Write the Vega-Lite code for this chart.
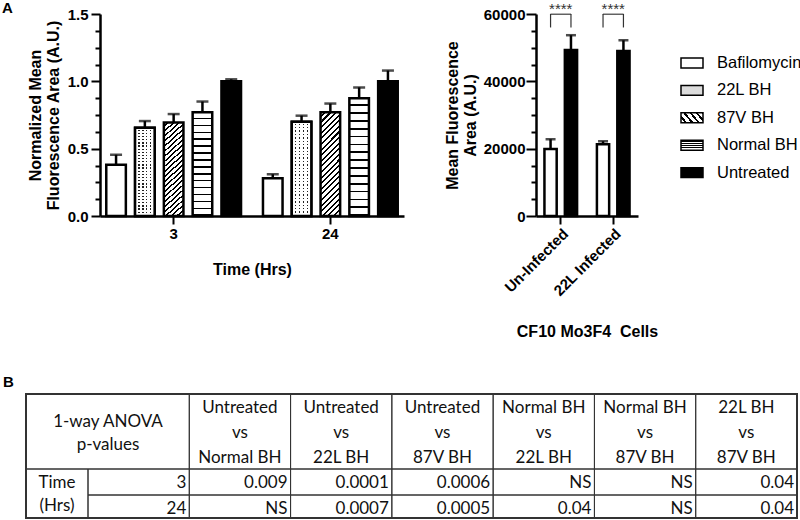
{
  "$schema": "https://vega.github.io/schema/vega-lite/v6.json",
  "padding": {"left": 2, "top": 1, "right": 0, "bottom": 0},
  "background": "white",
  "datasets": {
    "norm": [
      {"Time": "3", "Treatment": "Bafilomycin", "value": 0.38, "upper": 0.455},
      {"Time": "3", "Treatment": "22L BH", "value": 0.655, "upper": 0.705},
      {"Time": "3", "Treatment": "87V BH", "value": 0.695, "upper": 0.757},
      {"Time": "3", "Treatment": "Normal BH", "value": 0.77, "upper": 0.85},
      {"Time": "3", "Treatment": "Untreated", "value": 1.0, "upper": 1.015},
      {"Time": "24", "Treatment": "Bafilomycin", "value": 0.28, "upper": 0.31},
      {"Time": "24", "Treatment": "22L BH", "value": 0.7, "upper": 0.745},
      {"Time": "24", "Treatment": "87V BH", "value": 0.77, "upper": 0.835},
      {"Time": "24", "Treatment": "Normal BH", "value": 0.875, "upper": 0.955},
      {"Time": "24", "Treatment": "Untreated", "value": 1.0, "upper": 1.08}
    ],
    "cf10": [
      {"Infection": "Un-Infected", "Treatment": "Bafilomycin", "value": 19900, "upper": 22800, "sig": "****"},
      {"Infection": "Un-Infected", "Treatment": "Untreated", "value": 49300, "upper": 53700, "sig": "****"},
      {"Infection": "22L Infected", "Treatment": "Bafilomycin", "value": 21300, "upper": 22200, "sig": "****"},
      {"Infection": "22L Infected", "Treatment": "Untreated", "value": 49000, "upper": 52200, "sig": "****"}
    ],
    "cells": [
      {"kind": "title", "r0": 0, "r1": 1, "c0": 0, "c1": 2, "text": "1-way ANOVA\np-values"},
      {"kind": "head", "r0": 0, "r1": 1, "c0": 2, "c1": 3, "text": "Untreated\nvs\nNormal BH"},
      {"kind": "head", "r0": 0, "r1": 1, "c0": 3, "c1": 4, "text": "Untreated\nvs\n22L BH"},
      {"kind": "head", "r0": 0, "r1": 1, "c0": 4, "c1": 5, "text": "Untreated\nvs\n87V BH"},
      {"kind": "head", "r0": 0, "r1": 1, "c0": 5, "c1": 6, "text": "Normal BH\nvs\n22L BH"},
      {"kind": "head", "r0": 0, "r1": 1, "c0": 6, "c1": 7, "text": "Normal BH\nvs\n87V BH"},
      {"kind": "head", "r0": 0, "r1": 1, "c0": 7, "c1": 8, "text": "22L BH\nvs\n87V BH"},
      {"kind": "side", "r0": 1, "r1": 3, "c0": 0, "c1": 1, "text": "Time\n(Hrs)"},
      {"kind": "val", "r0": 1, "r1": 2, "c0": 1, "c1": 2, "text": "3"},
      {"kind": "val", "r0": 1, "r1": 2, "c0": 2, "c1": 3, "text": "0.009"},
      {"kind": "val", "r0": 1, "r1": 2, "c0": 3, "c1": 4, "text": "0.0001"},
      {"kind": "val", "r0": 1, "r1": 2, "c0": 4, "c1": 5, "text": "0.0006"},
      {"kind": "val", "r0": 1, "r1": 2, "c0": 5, "c1": 6, "text": "NS"},
      {"kind": "val", "r0": 1, "r1": 2, "c0": 6, "c1": 7, "text": "NS"},
      {"kind": "val", "r0": 1, "r1": 2, "c0": 7, "c1": 8, "text": "0.04"},
      {"kind": "val", "r0": 2, "r1": 3, "c0": 1, "c1": 2, "text": "24"},
      {"kind": "val", "r0": 2, "r1": 3, "c0": 2, "c1": 3, "text": "NS"},
      {"kind": "val", "r0": 2, "r1": 3, "c0": 3, "c1": 4, "text": "0.0007"},
      {"kind": "val", "r0": 2, "r1": 3, "c0": 4, "c1": 5, "text": "0.0005"},
      {"kind": "val", "r0": 2, "r1": 3, "c0": 5, "c1": 6, "text": "0.04"},
      {"kind": "val", "r0": 2, "r1": 3, "c0": 6, "c1": 7, "text": "NS"},
      {"kind": "val", "r0": 2, "r1": 3, "c0": 7, "c1": 8, "text": "0.04"}
    ]
  },
  "params": [
    {"name": "hstripe", "expr": "{gradient:'linear',x1:0,y1:0,x2:0,y2:1,stops:[{offset:0,color:'#fff'},{offset:0.052,color:'#fff'},{offset:0.052,color:'#000'},{offset:0.0667,color:'#000'},{offset:0.0667,color:'#fff'},{offset:0.1187,color:'#fff'},{offset:0.1187,color:'#000'},{offset:0.1333,color:'#000'},{offset:0.1333,color:'#fff'},{offset:0.1853,color:'#fff'},{offset:0.1853,color:'#000'},{offset:0.2,color:'#000'},{offset:0.2,color:'#fff'},{offset:0.252,color:'#fff'},{offset:0.252,color:'#000'},{offset:0.2667,color:'#000'},{offset:0.2667,color:'#fff'},{offset:0.3187,color:'#fff'},{offset:0.3187,color:'#000'},{offset:0.3333,color:'#000'},{offset:0.3333,color:'#fff'},{offset:0.3853,color:'#fff'},{offset:0.3853,color:'#000'},{offset:0.4,color:'#000'},{offset:0.4,color:'#fff'},{offset:0.452,color:'#fff'},{offset:0.452,color:'#000'},{offset:0.4667,color:'#000'},{offset:0.4667,color:'#fff'},{offset:0.5187,color:'#fff'},{offset:0.5187,color:'#000'},{offset:0.5333,color:'#000'},{offset:0.5333,color:'#fff'},{offset:0.5853,color:'#fff'},{offset:0.5853,color:'#000'},{offset:0.6,color:'#000'},{offset:0.6,color:'#fff'},{offset:0.652,color:'#fff'},{offset:0.652,color:'#000'},{offset:0.6667,color:'#000'},{offset:0.6667,color:'#fff'},{offset:0.7187,color:'#fff'},{offset:0.7187,color:'#000'},{offset:0.7333,color:'#000'},{offset:0.7333,color:'#fff'},{offset:0.7853,color:'#fff'},{offset:0.7853,color:'#000'},{offset:0.8,color:'#000'},{offset:0.8,color:'#fff'},{offset:0.852,color:'#fff'},{offset:0.852,color:'#000'},{offset:0.8667,color:'#000'},{offset:0.8667,color:'#fff'},{offset:0.9187,color:'#fff'},{offset:0.9187,color:'#000'},{offset:0.9333,color:'#000'},{offset:0.9333,color:'#fff'},{offset:0.9853,color:'#fff'},{offset:0.9853,color:'#000'},{offset:1,color:'#000'}]}"},
    {"name": "dstripe", "expr": "{gradient:'linear',x1:0,y1:0,x2:0.218,y2:1.1485,stops:[{offset:0,color:'#fff'},{offset:0.0286,color:'#fff'},{offset:0.0286,color:'#000'},{offset:0.0455,color:'#000'},{offset:0.0455,color:'#fff'},{offset:0.0741,color:'#fff'},{offset:0.0741,color:'#000'},{offset:0.0909,color:'#000'},{offset:0.0909,color:'#fff'},{offset:0.1196,color:'#fff'},{offset:0.1196,color:'#000'},{offset:0.1364,color:'#000'},{offset:0.1364,color:'#fff'},{offset:0.165,color:'#fff'},{offset:0.165,color:'#000'},{offset:0.1818,color:'#000'},{offset:0.1818,color:'#fff'},{offset:0.2105,color:'#fff'},{offset:0.2105,color:'#000'},{offset:0.2273,color:'#000'},{offset:0.2273,color:'#fff'},{offset:0.2559,color:'#fff'},{offset:0.2559,color:'#000'},{offset:0.2727,color:'#000'},{offset:0.2727,color:'#fff'},{offset:0.3014,color:'#fff'},{offset:0.3014,color:'#000'},{offset:0.3182,color:'#000'},{offset:0.3182,color:'#fff'},{offset:0.3468,color:'#fff'},{offset:0.3468,color:'#000'},{offset:0.3636,color:'#000'},{offset:0.3636,color:'#fff'},{offset:0.3923,color:'#fff'},{offset:0.3923,color:'#000'},{offset:0.4091,color:'#000'},{offset:0.4091,color:'#fff'},{offset:0.4377,color:'#fff'},{offset:0.4377,color:'#000'},{offset:0.4545,color:'#000'},{offset:0.4545,color:'#fff'},{offset:0.4832,color:'#fff'},{offset:0.4832,color:'#000'},{offset:0.5,color:'#000'},{offset:0.5,color:'#fff'},{offset:0.5286,color:'#fff'},{offset:0.5286,color:'#000'},{offset:0.5455,color:'#000'},{offset:0.5455,color:'#fff'},{offset:0.5741,color:'#fff'},{offset:0.5741,color:'#000'},{offset:0.5909,color:'#000'},{offset:0.5909,color:'#fff'},{offset:0.6196,color:'#fff'},{offset:0.6196,color:'#000'},{offset:0.6364,color:'#000'},{offset:0.6364,color:'#fff'},{offset:0.665,color:'#fff'},{offset:0.665,color:'#000'},{offset:0.6818,color:'#000'},{offset:0.6818,color:'#fff'},{offset:0.7105,color:'#fff'},{offset:0.7105,color:'#000'},{offset:0.7273,color:'#000'},{offset:0.7273,color:'#fff'},{offset:0.7559,color:'#fff'},{offset:0.7559,color:'#000'},{offset:0.7727,color:'#000'},{offset:0.7727,color:'#fff'},{offset:0.8014,color:'#fff'},{offset:0.8014,color:'#000'},{offset:0.8182,color:'#000'},{offset:0.8182,color:'#fff'},{offset:0.8468,color:'#fff'},{offset:0.8468,color:'#000'},{offset:0.8636,color:'#000'},{offset:0.8636,color:'#fff'},{offset:0.8923,color:'#fff'},{offset:0.8923,color:'#000'},{offset:0.9091,color:'#000'},{offset:0.9091,color:'#fff'},{offset:0.9377,color:'#fff'},{offset:0.9377,color:'#000'},{offset:0.9545,color:'#000'},{offset:0.9545,color:'#fff'},{offset:0.9832,color:'#fff'},{offset:0.9832,color:'#000'},{offset:1,color:'#000'}]}"},
    {"name": "dotrows", "expr": "{gradient:'linear',x1:0,y1:0,x2:0,y2:1,stops:[{offset:0,color:'#fff'},{offset:0.0214,color:'#fff'},{offset:0.0214,color:'transparent'},{offset:0.0357,color:'transparent'},{offset:0.0357,color:'#fff'},{offset:0.0571,color:'#fff'},{offset:0.0571,color:'transparent'},{offset:0.0714,color:'transparent'},{offset:0.0714,color:'#fff'},{offset:0.0929,color:'#fff'},{offset:0.0929,color:'transparent'},{offset:0.1071,color:'transparent'},{offset:0.1071,color:'#fff'},{offset:0.1286,color:'#fff'},{offset:0.1286,color:'transparent'},{offset:0.1429,color:'transparent'},{offset:0.1429,color:'#fff'},{offset:0.1643,color:'#fff'},{offset:0.1643,color:'transparent'},{offset:0.1786,color:'transparent'},{offset:0.1786,color:'#fff'},{offset:0.2,color:'#fff'},{offset:0.2,color:'transparent'},{offset:0.2143,color:'transparent'},{offset:0.2143,color:'#fff'},{offset:0.2357,color:'#fff'},{offset:0.2357,color:'transparent'},{offset:0.25,color:'transparent'},{offset:0.25,color:'#fff'},{offset:0.2714,color:'#fff'},{offset:0.2714,color:'transparent'},{offset:0.2857,color:'transparent'},{offset:0.2857,color:'#fff'},{offset:0.3071,color:'#fff'},{offset:0.3071,color:'transparent'},{offset:0.3214,color:'transparent'},{offset:0.3214,color:'#fff'},{offset:0.3429,color:'#fff'},{offset:0.3429,color:'transparent'},{offset:0.3571,color:'transparent'},{offset:0.3571,color:'#fff'},{offset:0.3786,color:'#fff'},{offset:0.3786,color:'transparent'},{offset:0.3929,color:'transparent'},{offset:0.3929,color:'#fff'},{offset:0.4143,color:'#fff'},{offset:0.4143,color:'transparent'},{offset:0.4286,color:'transparent'},{offset:0.4286,color:'#fff'},{offset:0.45,color:'#fff'},{offset:0.45,color:'transparent'},{offset:0.4643,color:'transparent'},{offset:0.4643,color:'#fff'},{offset:0.4857,color:'#fff'},{offset:0.4857,color:'transparent'},{offset:0.5,color:'transparent'},{offset:0.5,color:'#fff'},{offset:0.5214,color:'#fff'},{offset:0.5214,color:'transparent'},{offset:0.5357,color:'transparent'},{offset:0.5357,color:'#fff'},{offset:0.5571,color:'#fff'},{offset:0.5571,color:'transparent'},{offset:0.5714,color:'transparent'},{offset:0.5714,color:'#fff'},{offset:0.5929,color:'#fff'},{offset:0.5929,color:'transparent'},{offset:0.6071,color:'transparent'},{offset:0.6071,color:'#fff'},{offset:0.6286,color:'#fff'},{offset:0.6286,color:'transparent'},{offset:0.6429,color:'transparent'},{offset:0.6429,color:'#fff'},{offset:0.6643,color:'#fff'},{offset:0.6643,color:'transparent'},{offset:0.6786,color:'transparent'},{offset:0.6786,color:'#fff'},{offset:0.7,color:'#fff'},{offset:0.7,color:'transparent'},{offset:0.7143,color:'transparent'},{offset:0.7143,color:'#fff'},{offset:0.7357,color:'#fff'},{offset:0.7357,color:'transparent'},{offset:0.75,color:'transparent'},{offset:0.75,color:'#fff'},{offset:0.7714,color:'#fff'},{offset:0.7714,color:'transparent'},{offset:0.7857,color:'transparent'},{offset:0.7857,color:'#fff'},{offset:0.8071,color:'#fff'},{offset:0.8071,color:'transparent'},{offset:0.8214,color:'transparent'},{offset:0.8214,color:'#fff'},{offset:0.8429,color:'#fff'},{offset:0.8429,color:'transparent'},{offset:0.8571,color:'transparent'},{offset:0.8571,color:'#fff'},{offset:0.8786,color:'#fff'},{offset:0.8786,color:'transparent'},{offset:0.8929,color:'transparent'},{offset:0.8929,color:'#fff'},{offset:0.9143,color:'#fff'},{offset:0.9143,color:'transparent'},{offset:0.9286,color:'transparent'},{offset:0.9286,color:'#fff'},{offset:0.95,color:'#fff'},{offset:0.95,color:'transparent'},{offset:0.9643,color:'transparent'},{offset:0.9643,color:'#fff'},{offset:1,color:'#fff'}]}"},
    {"name": "dotcols", "expr": "{gradient:'linear',x1:0,y1:0,x2:1,y2:0,stops:[{offset:0,color:'#fff'},{offset:0.165,color:'#fff'},{offset:0.165,color:'transparent'},{offset:0.235,color:'transparent'},{offset:0.235,color:'#fff'},{offset:0.365,color:'#fff'},{offset:0.365,color:'transparent'},{offset:0.435,color:'transparent'},{offset:0.435,color:'#fff'},{offset:0.565,color:'#fff'},{offset:0.565,color:'transparent'},{offset:0.635,color:'transparent'},{offset:0.635,color:'#fff'},{offset:0.765,color:'#fff'},{offset:0.765,color:'transparent'},{offset:0.835,color:'transparent'},{offset:0.835,color:'#fff'},{offset:1,color:'#fff'}]}"}
  ],
  "concat": [
    {
      "hconcat": [
        {
          "width": 304,
          "height": 202,
          "title": {"text": "A", "anchor": "start", "frame": "group", "dx": -98, "offset": -9},
          "data": {"name": "norm"},
          "encoding": {
            "x": {"field": "Time", "type": "nominal", "sort": ["3", "24"],
                  "scale": {"paddingInner": 0.14, "paddingOuter": 0.04},
                  "axis": {"title": "Time (Hrs)", "labelAngle": 0, "tickSize": 8, "labelPadding": 2, "titlePadding": 20}},
            "xOffset": {"field": "Treatment", "type": "nominal",
                        "scale": {"domain": ["Bafilomycin", "22L BH", "87V BH", "Normal BH", "Untreated"], "paddingInner": 0.32, "paddingOuter": 0}},
            "y": {"field": "value", "type": "quantitative",
                  "scale": {"domain": [0, 1.5], "nice": false},
                  "axis": {"title": ["Normalized Mean", "Fluorescence Area (A.U.)"], "titleLineHeight": 18,
                           "values": [0, 0.125, 0.25, 0.375, 0.5, 0.625, 0.75, 0.875, 1, 1.125, 1.25, 1.375, 1.5],
                           "labelExpr": "datum.value % 0.5 === 0 ? format(datum.value, '.1f') : ''",
                           "labelOverlap": false,
                           "tickSize": {"condition": {"test": "datum.value % 0.5 !== 0", "value": 5}, "value": 9},
                           "labelPadding": 3, "titlePadding": 6}}
          },
          "layer": [
            {"mark": {"type": "rule", "strokeWidth": 2.5, "color": "black"},
             "encoding": {"y2": {"field": "upper"}}},
            {"mark": {"type": "bar", "stroke": "black", "strokeWidth": 2.5},
             "encoding": {"fill": {"field": "Treatment", "type": "nominal",
                "scale": {"domain": ["Bafilomycin", "22L BH", "87V BH", "Normal BH", "Untreated"],
                          "range": ["#ffffff", "#dcdcdc", {"expr": "dstripe"}, {"expr": "hstripe"}, "#000000"]},
                "legend": {"title": null, "orient": "none", "legendX": 580, "legendY": 37,
                           "symbolType": "M-1,-0.45H1V0.45H-1Z", "symbolSize": 484,
                           "labelFontSize": 16.5, "labelFont": "Liberation Sans", "labelColor": "black",
                           "labelOffset": 13, "rowPadding": 6.4, "padding": 0,
                           "encode": {"symbols": {"update": {"stroke": {"value": "black"}, "strokeWidth": {"value": 2.5}}}}}}}},
            {"transform": [{"filter": "datum.Treatment === '22L BH'"}],
             "mark": {"type": "bar", "fill": "#222222", "strokeWidth": 0}},
            {"transform": [{"filter": "datum.Treatment === '22L BH'"}],
             "mark": {"type": "bar", "fill": {"expr": "dotrows"}, "strokeWidth": 0}},
            {"transform": [{"filter": "datum.Treatment === '22L BH'"}],
             "mark": {"type": "bar", "fill": {"expr": "dotcols"}, "stroke": "black", "strokeWidth": 2.5}},
            {"mark": {"type": "tick", "thickness": 2.5, "size": 12, "color": "black"},
             "encoding": {"y": {"field": "upper", "type": "quantitative"}}}
          ]
        },
        {
          "width": 102,
          "height": 202,
          "data": {"name": "cf10"},
          "encoding": {
            "x": {"field": "Infection", "type": "nominal", "sort": ["Un-Infected", "22L Infected"],
                  "scale": {"paddingInner": 0.3, "paddingOuter": 0.122},
                  "axis": {"title": "CF10 Mo3F4\u00a0 Cells", "labelAngle": -45, "tickSize": 8, "labelPadding": 2, "titlePadding": 25}},
            "y": {"field": "value", "type": "quantitative",
                  "scale": {"domain": [0, 60000], "nice": false},
                  "axis": {"title": ["Mean Fluorescence", "Area (A.U.)"], "titleLineHeight": 18,
                           "values": [0, 5000, 10000, 15000, 20000, 25000, 30000, 35000, 40000, 45000, 50000, 55000, 60000],
                           "labelExpr": "datum.value % 20000 === 0 ? format(datum.value, 'd') : ''",
                           "labelOverlap": false,
                           "tickSize": {"condition": {"test": "datum.value % 20000 !== 0", "value": 5}, "value": 10},
                           "labelPadding": 1, "titlePadding": 5}}
          },
          "layer": [
            {"mark": {"type": "rule", "strokeWidth": 2.5, "color": "black"},
             "encoding": {"xOffset": {"field": "Treatment", "type": "nominal", "scale": {"domain": ["Bafilomycin", "Untreated"], "paddingInner": 0.4, "paddingOuter": 0.1}},
                          "y2": {"field": "upper"}}},
            {"mark": {"type": "bar", "stroke": "black", "strokeWidth": 2.5},
             "encoding": {"xOffset": {"field": "Treatment", "type": "nominal", "scale": {"domain": ["Bafilomycin", "Untreated"], "paddingInner": 0.4, "paddingOuter": 0.1}},
                          "fill": {"field": "Treatment", "type": "nominal",
                "scale": {"domain": ["Bafilomycin", "22L BH", "87V BH", "Normal BH", "Untreated"],
                          "range": ["#ffffff", "#dcdcdc", {"expr": "dstripe"}, {"expr": "hstripe"}, "#000000"]},
                "legend": {"title": null, "orient": "none", "legendX": 580, "legendY": 37,
                           "symbolType": "M-1,-0.45H1V0.45H-1Z", "symbolSize": 484,
                           "labelFontSize": 16.5, "labelFont": "Liberation Sans", "labelColor": "black",
                           "labelOffset": 13, "rowPadding": 6.4, "padding": 0,
                           "encode": {"symbols": {"update": {"stroke": {"value": "black"}, "strokeWidth": {"value": 2.5}}}}}}}},
            {"mark": {"type": "tick", "thickness": 2.5, "size": 10, "color": "black"},
             "encoding": {"xOffset": {"field": "Treatment", "type": "nominal", "scale": {"domain": ["Bafilomycin", "Untreated"], "paddingInner": 0.4, "paddingOuter": 0.1}},
                          "y": {"field": "upper", "type": "quantitative"}}},
            {"mark": {"type": "rule", "strokeWidth": 1.2, "color": "#333333"},
             "encoding": {"xOffset": {"field": "Treatment", "type": "nominal", "scale": {"domain": ["Bafilomycin", "Untreated"], "paddingInner": 0.4, "paddingOuter": 0.1}},
                          "y": {"datum": 56000, "type": "quantitative"},
                          "y2": {"datum": 60000}}},
            {"transform": [{"filter": "datum.Treatment === 'Untreated'"}],
             "mark": {"type": "bar", "width": {"band": 0.56}, "fill": "#333333", "stroke": "#333333", "strokeWidth": 0.6},
             "encoding": {"y": {"datum": 60000, "type": "quantitative"}, "y2": {"datum": 59900}}},
            {"transform": [{"filter": "datum.Treatment === 'Untreated'"}],
             "mark": {"type": "text", "font": "Liberation Sans", "fontSize": 15, "color": "#333333", "baseline": "top", "align": "center"},
             "encoding": {"y": {"datum": 63600, "type": "quantitative"}, "text": {"field": "sig"}}}
          ]
        }
      ],
      "spacing": 40,
      "resolve": {"scale": {"xOffset": "independent"}}
    },
    {
      "width": 697,
      "height": 124,
      "title": {"text": "B", "anchor": "start", "frame": "group", "dx": -97, "offset": 3},
      "data": {"name": "cells"},
      "layer": [
        {"mark": {"type": "rect", "fill": "white", "fillOpacity": 0, "stroke": "#333333", "strokeWidth": 1},
         "encoding": {
           "x": {"field": "c0", "type": "quantitative", "scale": {"type": "linear", "domain": [0, 1, 8], "range": [-74, -12, 697], "zero": false, "nice": false}, "axis": null},
           "x2": {"field": "c1"},
           "y": {"field": "r0", "type": "quantitative", "scale": {"type": "linear", "domain": [0, 1, 2, 3], "range": [0, 75, 101, 124], "zero": false, "nice": false}, "axis": null},
           "y2": {"field": "r1"}}},
        {"mark": {"type": "rect", "fill": "white", "fillOpacity": 0, "stroke": "#333333", "strokeWidth": 2},
         "encoding": {
           "x": {"datum": 0, "type": "quantitative", "scale": {"type": "linear", "domain": [0, 1, 8], "range": [-74, -12, 697], "zero": false, "nice": false}, "axis": null},
           "x2": {"datum": 8},
           "y": {"datum": 0, "type": "quantitative", "scale": {"type": "linear", "domain": [0, 1, 2, 3], "range": [0, 75, 101, 124], "zero": false, "nice": false}, "axis": null},
           "y2": {"datum": 3}}},
        {"transform": [{"filter": "datum.kind === 'head'"}],
         "mark": {"type": "text", "font": "Lato", "fontSize": 17, "color": "#111111", "align": "center", "baseline": "middle", "lineBreak": "\n", "lineHeight": 25, "dx": 50.6, "dy": 14},
         "encoding": {
           "x": {"field": "c0", "type": "quantitative", "scale": {"type": "linear", "domain": [0, 1, 8], "range": [-74, -12, 697], "zero": false, "nice": false}, "axis": null},
           "y": {"field": "r0", "type": "quantitative", "scale": {"type": "linear", "domain": [0, 1, 2, 3], "range": [0, 75, 101, 124], "zero": false, "nice": false}, "axis": null},
           "text": {"field": "text"}}},
        {"transform": [{"filter": "datum.kind === 'title'"}],
         "mark": {"type": "text", "font": "Lato", "fontSize": 17, "color": "#111111", "align": "center", "baseline": "middle", "lineBreak": "\n", "lineHeight": 23, "dx": 82, "dy": 28},
         "encoding": {
           "x": {"field": "c0", "type": "quantitative", "scale": {"type": "linear", "domain": [0, 1, 8], "range": [-74, -12, 697], "zero": false, "nice": false}, "axis": null},
           "y": {"field": "r0", "type": "quantitative", "scale": {"type": "linear", "domain": [0, 1, 2, 3], "range": [0, 75, 101, 124], "zero": false, "nice": false}, "axis": null},
           "text": {"field": "text"}}},
        {"transform": [{"filter": "datum.kind === 'side'"}],
         "mark": {"type": "text", "font": "Lato", "fontSize": 17, "color": "#111111", "align": "center", "baseline": "middle", "lineBreak": "\n", "lineHeight": 23, "dx": 31, "dy": 14},
         "encoding": {
           "x": {"field": "c0", "type": "quantitative", "scale": {"type": "linear", "domain": [0, 1, 8], "range": [-74, -12, 697], "zero": false, "nice": false}, "axis": null},
           "y": {"field": "r0", "type": "quantitative", "scale": {"type": "linear", "domain": [0, 1, 2, 3], "range": [0, 75, 101, 124], "zero": false, "nice": false}, "axis": null},
           "text": {"field": "text"}}},
        {"transform": [{"filter": "datum.kind === 'val'"}],
         "mark": {"type": "text", "font": "Lato", "fontSize": 17, "color": "#111111", "align": "right", "baseline": "middle", "dx": -3, "dy": 13.5},
         "encoding": {
           "x": {"field": "c1", "type": "quantitative", "scale": {"type": "linear", "domain": [0, 1, 8], "range": [-74, -12, 697], "zero": false, "nice": false}, "axis": null},
           "y": {"field": "r0", "type": "quantitative", "scale": {"type": "linear", "domain": [0, 1, 2, 3], "range": [0, 75, 101, 124], "zero": false, "nice": false}, "axis": null},
           "text": {"field": "text"}}}
      ]
    }
  ],
  "columns": 1,
  "spacing": 35,
  "config": {
    "view": {"stroke": null},
    "font": "Liberation Sans",
    "title": {"font": "Liberation Sans", "fontWeight": "bold", "fontSize": 15, "color": "black"},
    "axis": {"grid": false, "domainColor": "black", "domainWidth": 2.5, "tickColor": "black", "tickWidth": 2,
             "labelFont": "Liberation Sans", "labelFontWeight": "bold", "labelFontSize": 15, "labelColor": "black",
             "titleFont": "Liberation Sans", "titleFontWeight": "bold", "titleFontSize": 16, "titleColor": "black"}
  }
}
